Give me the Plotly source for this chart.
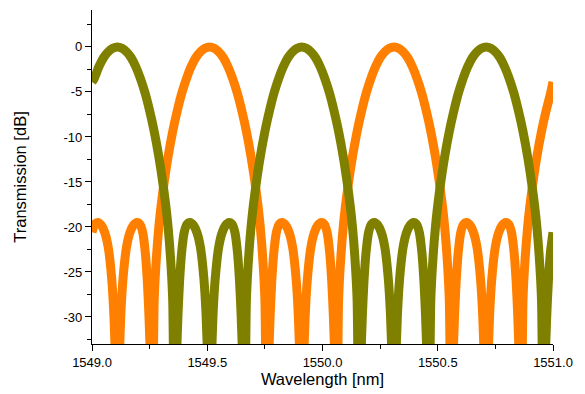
import plotly.graph_objects as go

# Olive series (triangle markers in the original): wavelength [nm], transmission [dB]
olive_wl = [
    1549.00, 1549.01, 1549.03, 1549.05, 1549.07, 1549.09, 1549.11, 1549.13, 1549.15, 1549.17,
    1549.19, 1549.21, 1549.23, 1549.25, 1549.27, 1549.29, 1549.31, 1549.32, 1549.33, 1549.34,
    1549.35, 1549.358,
    1549.366, 1549.373, 1549.38, 1549.389, 1549.40, 1549.412, 1549.425, 1549.44, 1549.455, 1549.47,
    1549.485, 1549.495, 1549.502, 1549.51, 1549.518, 1549.525, 1549.535, 1549.55, 1549.565, 1549.58,
    1549.595, 1549.608, 1549.62, 1549.631, 1549.64, 1549.647, 1549.654, 1549.662,
    1549.67, 1549.68, 1549.69, 1549.70, 1549.71, 1549.73, 1549.75, 1549.77, 1549.79, 1549.81,
    1549.83, 1549.85, 1549.87, 1549.89, 1549.91, 1549.93, 1549.95, 1549.97, 1549.99, 1550.01,
    1550.03, 1550.05, 1550.07, 1550.09, 1550.11, 1550.12, 1550.13, 1550.14, 1550.15, 1550.158,
    1550.166, 1550.173, 1550.18, 1550.189, 1550.20, 1550.212, 1550.225, 1550.24, 1550.255, 1550.27,
    1550.285, 1550.295, 1550.302, 1550.31, 1550.318, 1550.325, 1550.335, 1550.35, 1550.365, 1550.38,
    1550.395, 1550.408, 1550.42, 1550.431, 1550.44, 1550.447, 1550.454, 1550.462,
    1550.47, 1550.48, 1550.49, 1550.50, 1550.51, 1550.53, 1550.55, 1550.57, 1550.59, 1550.61,
    1550.63, 1550.65, 1550.67, 1550.69, 1550.71, 1550.73, 1550.75, 1550.77, 1550.79, 1550.81,
    1550.83, 1550.85, 1550.87, 1550.89, 1550.91, 1550.92, 1550.93, 1550.94, 1550.95, 1550.958,
    1550.966, 1550.973, 1550.98, 1550.989, 1551.00,
]
olive_db = [
    -3.9, -3.5, -2.2, -1.2, -0.55, -0.15, 0.0, -0.15, -0.55, -1.2,
    -2.2, -3.5, -5.1, -7.1, -9.4, -12.2, -15.6, -17.6, -20.0, -23.2,
    -28.0, -45.0,
    -35.2, -29.8, -26.0, -22.8, -20.6, -19.7, -19.5, -19.8, -20.6, -22.2,
    -25.6, -29.8, -35.2, -45.0, -35.2, -29.8, -25.6, -22.2, -20.6, -19.8,
    -19.5, -19.7, -20.6, -22.8, -26.0, -29.8, -35.2, -45.0,
    -28.0, -23.2, -20.0, -17.6, -15.6, -12.2, -9.4, -7.1, -5.1, -3.5,
    -2.2, -1.2, -0.55, -0.15, 0.0, -0.15, -0.55, -1.2, -2.2, -3.5,
    -5.1, -7.1, -9.4, -12.2, -15.6, -17.6, -20.0, -23.2, -28.0, -45.0,
    -35.2, -29.8, -26.0, -22.8, -20.6, -19.7, -19.5, -19.8, -20.6, -22.2,
    -25.6, -29.8, -35.2, -45.0, -35.2, -29.8, -25.6, -22.2, -20.6, -19.8,
    -19.5, -19.7, -20.6, -22.8, -26.0, -29.8, -35.2, -45.0,
    -28.0, -23.2, -20.0, -17.6, -15.6, -12.2, -9.4, -7.1, -5.1, -3.5,
    -2.2, -1.2, -0.55, -0.15, 0.0, -0.15, -0.55, -1.2, -2.2, -3.5,
    -5.1, -7.1, -9.4, -12.2, -15.6, -17.6, -20.0, -23.2, -28.0, -45.0,
    -35.2, -29.8, -26.0, -22.8, -20.6,
]

# Orange series (diamond markers in the original)
orange_wl = [
    1549.00, 1549.012, 1549.025, 1549.04, 1549.055, 1549.07, 1549.085, 1549.095, 1549.102, 1549.11,
    1549.118, 1549.125, 1549.135, 1549.15, 1549.165, 1549.18, 1549.195, 1549.208, 1549.22, 1549.231,
    1549.24, 1549.247, 1549.254, 1549.262,
    1549.27, 1549.28, 1549.29, 1549.30, 1549.31, 1549.33, 1549.35, 1549.37, 1549.39, 1549.41,
    1549.43, 1549.45, 1549.47, 1549.49, 1549.51, 1549.53, 1549.55, 1549.57, 1549.59, 1549.61,
    1549.63, 1549.65, 1549.67, 1549.69, 1549.71, 1549.72, 1549.73, 1549.74, 1549.75, 1549.758,
    1549.766, 1549.773, 1549.78, 1549.789, 1549.80, 1549.812, 1549.825, 1549.84, 1549.855, 1549.87,
    1549.885, 1549.895, 1549.902, 1549.91, 1549.918, 1549.925, 1549.935, 1549.95, 1549.965, 1549.98,
    1549.995, 1550.008, 1550.02, 1550.031, 1550.04, 1550.047, 1550.054, 1550.062,
    1550.07, 1550.08, 1550.09, 1550.10, 1550.11, 1550.13, 1550.15, 1550.17, 1550.19, 1550.21,
    1550.23, 1550.25, 1550.27, 1550.29, 1550.31, 1550.33, 1550.35, 1550.37, 1550.39, 1550.41,
    1550.43, 1550.45, 1550.47, 1550.49, 1550.51, 1550.52, 1550.53, 1550.54, 1550.55, 1550.558,
    1550.566, 1550.573, 1550.58, 1550.589, 1550.60, 1550.612, 1550.625, 1550.64, 1550.655, 1550.67,
    1550.685, 1550.695, 1550.702, 1550.71, 1550.718, 1550.725, 1550.735, 1550.75, 1550.765, 1550.78,
    1550.795, 1550.808, 1550.82, 1550.831, 1550.84, 1550.847, 1550.854, 1550.862,
    1550.87, 1550.88, 1550.89, 1550.90, 1550.91, 1550.93, 1550.95, 1550.97, 1550.99, 1551.00,
]
orange_db = [
    -20.6, -19.7, -19.5, -19.8, -20.6, -22.2, -25.6, -29.8, -35.2, -45.0,
    -35.2, -29.8, -25.6, -22.2, -20.6, -19.8, -19.5, -19.7, -20.6, -22.8,
    -26.0, -29.8, -35.2, -45.0,
    -28.0, -23.2, -20.0, -17.6, -15.6, -12.2, -9.4, -7.1, -5.1, -3.5,
    -2.2, -1.2, -0.55, -0.15, 0.0, -0.15, -0.55, -1.2, -2.2, -3.5,
    -5.1, -7.1, -9.4, -12.2, -15.6, -17.6, -20.0, -23.2, -28.0, -45.0,
    -35.2, -29.8, -26.0, -22.8, -20.6, -19.7, -19.5, -19.8, -20.6, -22.2,
    -25.6, -29.8, -35.2, -45.0, -35.2, -29.8, -25.6, -22.2, -20.6, -19.8,
    -19.5, -19.7, -20.6, -22.8, -26.0, -29.8, -35.2, -45.0,
    -28.0, -23.2, -20.0, -17.6, -15.6, -12.2, -9.4, -7.1, -5.1, -3.5,
    -2.2, -1.2, -0.55, -0.15, 0.0, -0.15, -0.55, -1.2, -2.2, -3.5,
    -5.1, -7.1, -9.4, -12.2, -15.6, -17.6, -20.0, -23.2, -28.0, -45.0,
    -35.2, -29.8, -26.0, -22.8, -20.6, -19.7, -19.5, -19.8, -20.6, -22.2,
    -25.6, -29.8, -35.2, -45.0, -35.2, -29.8, -25.6, -22.2, -20.6, -19.8,
    -19.5, -19.7, -20.6, -22.8, -26.0, -29.8, -35.2, -45.0,
    -28.0, -23.2, -20.0, -17.6, -15.6, -12.2, -9.4, -7.1, -5.1, -3.9,
]

x_ticks = [1549.0, 1549.5, 1550.0, 1550.5, 1551.0]
x_tick_labels = ["1549.0", "1549.5", "1550.0", "1550.5", "1551.0"]
y_ticks = [-30, -25, -20, -15, -10, -5, 0]
y_tick_labels = ["-30", "-25", "-20", "-15", "-10", "-5", "0"]

ORANGE = "#FF8000"
OLIVE = "#808000"
FONT = "Arial, Liberation Sans, sans-serif"

fig = go.Figure()
fig.add_trace(go.Scatter(x=orange_wl, y=orange_db, mode="lines",
                         line=dict(color=ORANGE, width=9, shape="spline", smoothing=0.7),
                         showlegend=False))
fig.add_trace(go.Scatter(x=olive_wl, y=olive_db, mode="lines",
                         line=dict(color=OLIVE, width=9, shape="spline", smoothing=0.7),
                         showlegend=False))

axis_common = dict(showgrid=False, zeroline=False, showline=True, linecolor="black",
                   linewidth=1.3, ticks="outside", tickcolor="black", tickwidth=1.3,
                   ticklen=6, mirror=False, tickfont=dict(family=FONT, size=13, color="black"))

fig.update_xaxes(range=[1549.0, 1551.0], tickvals=x_ticks, ticktext=x_tick_labels,
                 minor=dict(ticks="outside", ticklen=4, dtick=0.25, tick0=1549.0,
                            tickcolor="black", tickwidth=1.3),
                 title=dict(text="Wavelength [nm]", font=dict(family=FONT, size=16.5, color="black"),
                            standoff=3),
                 **axis_common)
fig.update_yaxes(range=[-33, 4.1], tickvals=y_ticks, ticktext=y_tick_labels,
                 minor=dict(ticks="outside", ticklen=4, dtick=2.5, tick0=0,
                            tickcolor="black", tickwidth=1.3),
                 title=dict(text="Transmission [dB]", font=dict(family=FONT, size=16.5, color="black"),
                            standoff=32),
                 **axis_common)

fig.update_layout(width=585, height=394, margin=dict(l=92, r=32, t=10, b=46),
                  plot_bgcolor="white", paper_bgcolor="white", showlegend=False)

fig.write_html("out.html", config={"displayModeBar": False},
               post_script="document.body.style.margin='0px';")
